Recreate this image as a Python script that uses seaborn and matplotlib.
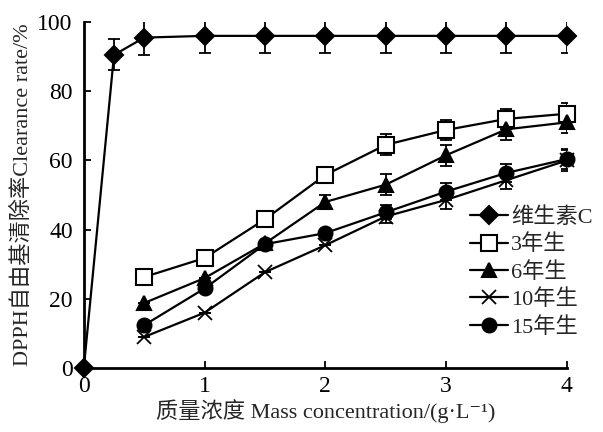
import matplotlib
matplotlib.use("Agg")
import matplotlib.pyplot as plt
import seaborn as sns
import pandas as pd
import numpy as np

sns.set_style("ticks")
plt.rcParams['font.family'] = ['Liberation Serif', 'Noto Sans CJK SC', 'DejaVu Serif']

# Data
x_vc = [0, 0.25, 0.5, 1, 1.5, 2, 2.5, 3, 3.5, 4]
vc = [0, 90.5, 95.5, 96, 96, 96, 96, 96, 96, 96]
vc_err = [0, 4.5, 5, 5, 5, 5, 5, 5, 5, 5]

x_s = [0.5, 1, 1.5, 2, 2.5, 3, 3.5, 4]
y3 = [26.3, 31.8, 43.0, 55.8, 64.5, 68.8, 72.0, 73.5]
e3 = [0, 0, 0, 1.5, 3, 3, 3, 3]
y6 = [18.8, 26.0, 36.0, 48.0, 53.0, 61.5, 69.0, 71.0]
e6 = [0, 0, 0, 2, 3, 3, 3, 3]
y10 = [9.0, 16.0, 27.7, 35.5, 43.8, 48.6, 54.3, 60.0]
e10 = [0, 0, 0, 0, 2, 2.5, 2.5, 3]
y15 = [12.4, 23.0, 35.8, 39.0, 45.0, 51.0, 56.4, 60.4]
e15 = [0, 0, 0, 0, 2, 2.5, 2.5, 3]

labels = ['维生素C', '3年生', '6年生', '10年生', '15年生']
series = [
    (x_vc, vc, vc_err, 'D', 'black', 9),
    (x_s, y3, e3, 's', 'white', 11),
    (x_s, y6, e6, '^', 'black', 10),
    (x_s, y10, e10, 'x', 'black', 10),
    (x_s, y15, e15, 'o', 'black', 10),
]

fig = plt.figure(figsize=(6.03, 4.32), dpi=100)
ax = fig.add_axes([0.139, 0.148, 0.801, 0.801])

for (xs, ys, es, m, fc, ms), lab in zip(series, labels):
    df = pd.DataFrame({'x': xs, 'y': ys})
    ax.errorbar(xs, ys, yerr=es, fmt='none', ecolor='black', elinewidth=1.3,
                capsize=4, capthick=1.3, zorder=2)
    sns.lineplot(data=df, x='x', y='y', ax=ax, color='black', lw=1.6,
                 marker=m, markersize=ms, markerfacecolor=fc,
                 markeredgecolor='black', markeredgewidth=1.5 if m != 'x' else 1.3,
                 label=lab, clip_on=False, zorder=3)

ax.set_xlim(0, 4)
ax.set_ylim(0, 100)
ax.set_xticks([0, 1, 2, 3, 4])
ax.set_yticks([0, 20, 40, 60, 80, 100])
ax.tick_params(direction='in', length=5, width=1.3, labelsize=17, colors='black')
ax.tick_params(axis='y', pad=8)
ax.tick_params(axis='x', pad=6)
for s in ['top', 'right']:
    ax.spines[s].set_visible(False)
for s in ['left', 'bottom']:
    ax.spines[s].set_linewidth(2)
    ax.spines[s].set_color('black')

ax.set_xlabel('质量浓度 Mass concentration/(g·L⁻¹)', fontsize=16, labelpad=1)
ax.set_ylabel('DPPH自由基清除率Clearance rate/%', fontsize=16, labelpad=3)

leg = ax.legend(loc='upper left', bbox_to_anchor=(0.80, 0.465), frameon=False,
                fontsize=16, handlelength=1.7, handletextpad=0.15,
                labelspacing=0.3, borderaxespad=0, borderpad=0)

fig.savefig('out.png', dpi=100)
